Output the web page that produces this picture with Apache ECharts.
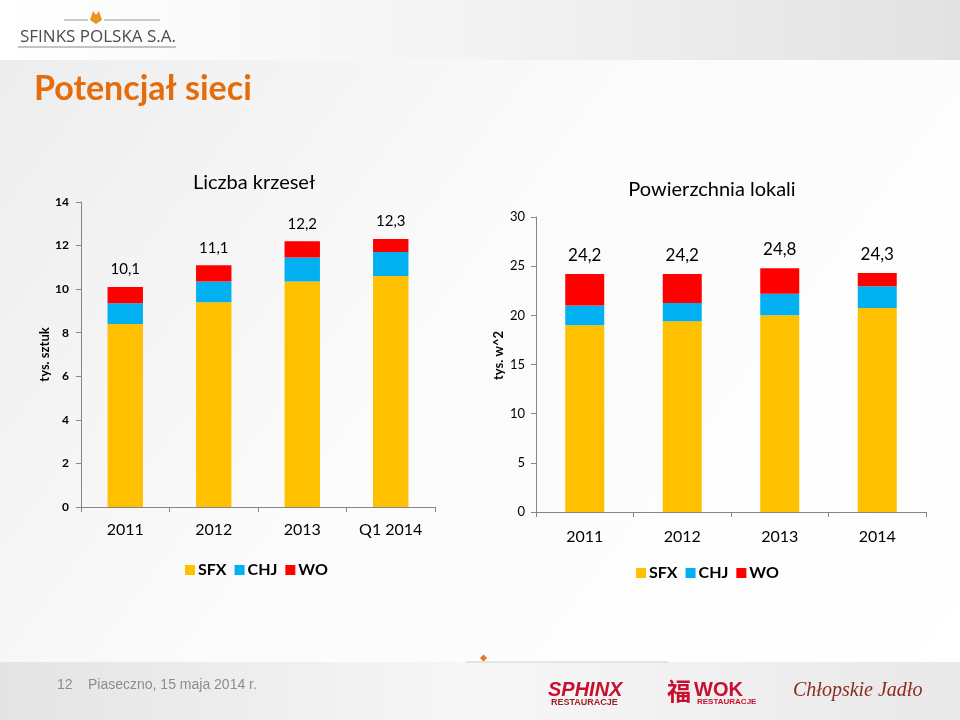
<!DOCTYPE html>
<html>
<head>
<meta charset="utf-8">
<script src="https://cdn.jsdelivr.net/npm/echarts@6/dist/echarts.min.js"></script>
<style>html,body{margin:0;padding:0;}#c{width:960px;height:720px;}</style>
</head>
<body>
<div id="c"></div>
<script>
// ---- data ----
var chairsCategories = ['2011', '2012', '2013', 'Q1 2014'];
var chairsSFX = [8.4, 9.4, 10.35, 10.6];
var chairsCHJ = [0.95, 0.95, 1.1, 1.1];
var chairsWO = [0.75, 0.75, 0.75, 0.6];
var chairsTotals = ['10,1', '11,1', '12,2', '12,3'];

var areaCategories = ['2011', '2012', '2013', '2014'];
var areaSFX = [19.0, 19.4, 20.0, 20.75];
var areaCHJ = [2.0, 1.85, 2.2, 2.2];
var areaWO = [3.2, 2.95, 2.6, 1.35];
var areaTotals = ['24,2', '24,2', '24,8', '24,3'];

var seriesNames = ['SFX', 'CHJ', 'WO'];
var colors = ['#FFC000', '#00B0F0', '#FF0000'];
var FONT = 'Lato, "Open Sans", sans-serif';

var chart = echarts.init(document.getElementById('c'), null, {renderer: 'canvas'});

function bar(name, data, xi, color, totals, labelSize) {
  var s = {
    name: name, type: 'bar', stack: 'g' + xi, xAxisIndex: xi, yAxisIndex: xi,
    data: data, barWidth: '40%', itemStyle: {color: color}, emphasis: {disabled: true}
  };
  if (totals) {
    s.label = {
      show: true, position: 'top', distance: 10,
      formatter: function (p) { return totals[p.dataIndex]; },
      fontFamily: FONT, fontSize: labelSize, color: '#000'
    };
  }
  return s;
}

var axisLine = {show: true, lineStyle: {color: '#868686', width: 1}};

var option = {
  backgroundColor: '#ffffff',
  animation: false,
  graphic: [
    // body background
    {type: 'rect', z: -10, shape: {x: 0, y: 0, width: 960, height: 720},
     style: {fill: new echarts.graphic.LinearGradient(0, 0, 1, 1, [
       {offset: 0, color: '#ececec'}, {offset: 0.45, color: '#fbfbfb'}, {offset: 1, color: '#ffffff'}])}},
    // header band
    {type: 'rect', z: -9, shape: {x: 0, y: 0, width: 960, height: 60},
     style: {fill: new echarts.graphic.LinearGradient(0, 0, 1, 0, [
       {offset: 0, color: '#ffffff'}, {offset: 0.5, color: '#f3f3f3'}, {offset: 1, color: '#e2e2e2'}])}},
    // footer band
    {type: 'rect', z: -9, shape: {x: 0, y: 662, width: 960, height: 58},
     style: {fill: new echarts.graphic.LinearGradient(0, 0, 1, 0, [
       {offset: 0, color: '#e4e4e4'}, {offset: 0.5, color: '#f7f7f7'}, {offset: 1, color: '#e8e8e8'}])}},
    {type: 'line', z: -8, shape: {x1: 466, y1: 662, x2: 668, y2: 662}, style: {stroke: '#cfcfcf', lineWidth: 1}},
    {type: 'rect', z: -7, rotation: Math.PI / 4, x: 480, y: 658, shape: {x: 0, y: 0, width: 5, height: 5}, style: {fill: '#E87722'}},
    // logo
    {type: 'line', shape: {x1: 64, y1: 20, x2: 88, y2: 20}, style: {stroke: '#999', lineWidth: 1}},
    {type: 'line', shape: {x1: 104, y1: 20, x2: 160, y2: 20}, style: {stroke: '#999', lineWidth: 1}},
    {type: 'polygon', shape: {points: [[90, 20], [93, 11], [96, 15], [99, 11], [102, 20], [96, 24]]}, style: {fill: '#E8961E'}},
    {type: 'text', x: 20, y: 29, style: {text: 'SFINKS POLSKA S.A.', fill: '#4d4d4d', font: '17px "Open Sans", sans-serif'}},
    {type: 'line', shape: {x1: 18, y1: 47, x2: 176, y2: 47}, style: {stroke: '#8a8a8a', lineWidth: 1}},
    // slide title
    {type: 'text', x: 34, y: 72, style: {text: 'Potencjał sieci', fill: '#E46C0A', font: 'bold 34px Lato, sans-serif'}},
    // footer text
    {type: 'text', x: 57, y: 678, style: {text: '12', fill: '#8c8c8c', font: '14px "Liberation Sans Narrow", "Liberation Sans", sans-serif'}},
    {type: 'text', x: 88, y: 678, style: {text: 'Piaseczno, 15 maja 2014 r.', fill: '#8c8c8c', font: '14px "Liberation Sans Narrow", "Liberation Sans", sans-serif'}},
    {type: 'text', x: 548, y: 680, style: {text: 'SPHINX', fill: '#C8102E', font: 'bold italic 20px "Liberation Sans", sans-serif'}},
    {type: 'text', x: 551, y: 698, style: {text: 'RESTAURACJE', fill: '#9B1B1F', font: 'bold 9px "Liberation Sans", sans-serif'}},
    {type: 'text', x: 667, y: 679, style: {text: '福', fill: '#C8102E', font: 'bold 24px "Noto Sans CJK SC", sans-serif'}},
    {type: 'text', x: 694, y: 680, style: {text: 'WOK', fill: '#C8102E', font: 'bold 20px "Liberation Sans", sans-serif'}},
    {type: 'text', x: 697, y: 698, style: {text: 'RESTAURACJE', fill: '#C8102E', font: 'bold 8px "Liberation Sans", sans-serif'}},
    {type: 'text', x: 793, y: 681, style: {text: 'Chłopskie Jadło', fill: '#8B2A1E', font: 'italic 20px "Liberation Serif", serif'}}
  ],
  title: [
    {text: 'Liczba krzeseł', left: 249, top: 168, textAlign: 'center',
     textStyle: {fontFamily: FONT, fontSize: 20, fontWeight: 'normal', color: '#000'}},
    {text: 'Powierzchnia lokali', left: 707, top: 175, textAlign: 'center',
     textStyle: {fontFamily: FONT, fontSize: 20, fontWeight: 'normal', color: '#000'}}
  ],
  legend: [
    {data: seriesNames, left: 180, top: 557, itemWidth: 10, itemHeight: 10, itemGap: 8, icon: 'rect',
     textStyle: {fontFamily: FONT, fontSize: 16, fontWeight: 'bold', color: '#000', padding: [0, 0, 0, -2]}},
    {data: seriesNames, left: 631, top: 560, itemWidth: 10, itemHeight: 10, itemGap: 8, icon: 'rect',
     textStyle: {fontFamily: FONT, fontSize: 16, fontWeight: 'bold', color: '#000', padding: [0, 0, 0, -2]}}
  ],
  grid: [
    {left: 81, top: 202, width: 354, height: 305, containLabel: false},
    {left: 536, top: 217, width: 390, height: 295, containLabel: false}
  ],
  xAxis: [
    {type: 'category', gridIndex: 0, data: chairsCategories, axisLine: axisLine,
     axisTick: {show: true, length: 5, lineStyle: {color: '#868686'}},
     axisLabel: {fontFamily: FONT, fontSize: 16, color: '#000', margin: 15}},
    {type: 'category', gridIndex: 1, data: areaCategories, axisLine: axisLine,
     axisTick: {show: true, length: 5, lineStyle: {color: '#868686'}},
     axisLabel: {fontFamily: FONT, fontSize: 16, color: '#000', margin: 17}}
  ],
  yAxis: [
    {type: 'value', gridIndex: 0, min: 0, max: 14, interval: 2, axisLine: axisLine,
     axisTick: {show: true, length: 5, lineStyle: {color: '#868686'}}, splitLine: {show: false},
     axisLabel: {fontFamily: FONT, fontSize: 12, fontWeight: 'bold', color: '#000', margin: 12},
     name: 'tys. sztuk', nameLocation: 'middle', nameGap: 28, nameRotate: 90,
     nameTextStyle: {fontFamily: FONT, fontSize: 13, fontWeight: 'bold', color: '#000'}},
    {type: 'value', gridIndex: 1, min: 0, max: 30, interval: 5, axisLine: axisLine,
     axisTick: {show: true, length: 5, lineStyle: {color: '#868686'}}, splitLine: {show: false},
     axisLabel: {fontFamily: FONT, fontSize: 13, color: '#000', margin: 11},
     name: 'tys. w^2', nameLocation: 'middle', nameGap: 31, nameRotate: 90,
     nameTextStyle: {fontFamily: FONT, fontSize: 13, fontWeight: 'bold', color: '#000', padding: [0, 0, 0, 18]}}
  ],
  series: [
    bar('SFX', chairsSFX, 0, colors[0]),
    bar('CHJ', chairsCHJ, 0, colors[1]),
    bar('WO', chairsWO, 0, colors[2], chairsTotals, 15),
    bar('SFX', areaSFX, 1, colors[0]),
    bar('CHJ', areaCHJ, 1, colors[1]),
    bar('WO', areaWO, 1, colors[2], areaTotals, 17)
  ]
};
chart.setOption(option);
</script>
</body>
</html>
